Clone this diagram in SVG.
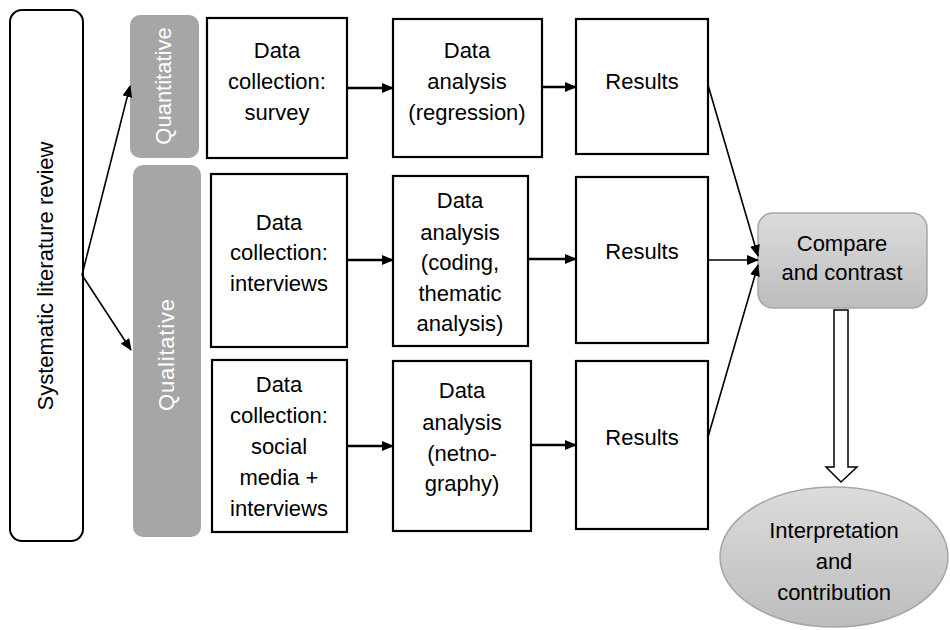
<svg xmlns="http://www.w3.org/2000/svg" width="950" height="630" viewBox="0 0 950 630">
<defs>
<style>
text{font-family:"Liberation Sans",Arial,sans-serif;font-size:22px;fill:#000;text-anchor:middle}
.w{fill:#fff}
.box{fill:#fff;stroke:#000;stroke-width:2.2}
.grey{fill:#a6a6a6}
.con{stroke:#000;stroke-width:2.5;fill:none}
.thin{stroke:#000;stroke-width:1.6;fill:none}
</style>
<marker id="ah" markerWidth="12" markerHeight="10" refX="11" refY="5" orient="auto" markerUnits="userSpaceOnUse">
<path d="M0,0 L12,5 L0,10 Z" fill="#000"/>
</marker>
<linearGradient id="gc" x1="0" y1="0" x2="0" y2="1">
<stop offset="0" stop-color="#dcdcdc"/><stop offset="1" stop-color="#bdbdbd"/>
</linearGradient>
</defs>

<g id="slr">
<rect x="10" y="10" width="73" height="531" rx="12" fill="#fff" stroke="#000" stroke-width="2"/>
<text transform="translate(53,276) rotate(-90)">Systematic literature review</text>
</g>
<g id="quantitative">
<rect class="grey" x="130" y="15" width="69" height="143" rx="10"/>
<text class="w" transform="translate(171,86) rotate(-90)">Quantitative</text>
</g>
<g id="qualitative">
<rect class="grey" x="133" y="165" width="68" height="372" rx="10"/>
<text class="w" transform="translate(174,355) rotate(-90)" textLength="112" lengthAdjust="spacing">Qualitative</text>
</g>

<g id="dc1">
<rect class="box" x="207" y="18" width="140" height="140"/>
<text x="277" y="58">Data</text><text x="277" y="89">collection:</text><text x="277" y="120">survey</text>
</g>
<g id="da1">
<rect class="box" x="393" y="19" width="149" height="138"/>
<text x="467" y="58">Data</text><text x="467" y="89">analysis</text><text x="467" y="120">(regression)</text>
</g>
<g id="res1">
<rect class="box" x="576" y="19" width="132" height="135"/>
<text x="642" y="89">Results</text>
</g>

<g id="dc2">
<rect class="box" x="211" y="174" width="136" height="173"/>
<text x="279" y="230">Data</text><text x="279" y="260">collection:</text><text x="279" y="291">interviews</text>
</g>
<g id="da2">
<rect class="box" x="393" y="176" width="135" height="170"/>
<text x="460" y="208">Data</text><text x="460" y="240">analysis</text><text x="460" y="270">(coding,</text><text x="460" y="301">thematic</text><text x="460" y="331">analysis)</text>
</g>
<g id="res2">
<rect class="box" x="576" y="177" width="132" height="166"/>
<text x="642" y="259">Results</text>
</g>

<g id="dc3">
<rect class="box" x="212" y="360" width="135" height="172"/>
<text x="279" y="392">Data</text><text x="279" y="423">collection:</text><text x="279" y="454">social</text><text x="279" y="485">media +</text><text x="279" y="516">interviews</text>
</g>
<g id="da3">
<rect class="box" x="393" y="361" width="138" height="170"/>
<text x="462" y="398">Data</text><text x="462" y="430">analysis</text><text x="462" y="461">(netno-</text><text x="462" y="491">graphy)</text>
</g>
<g id="res3">
<rect class="box" x="576" y="361" width="132" height="168"/>
<text x="642" y="445">Results</text>
</g>

<g id="compare">
<rect x="758" y="213" width="169" height="95" rx="15" fill="url(#gc)" stroke="#a6a6a6" stroke-width="1.5"/>
<text x="842" y="251">Compare</text><text x="842" y="280">and contrast</text>
</g>
<g id="interp">
<ellipse cx="834" cy="557" rx="114" ry="70" fill="url(#gc)" stroke="#a6a6a6" stroke-width="1.5"/>
<text x="834" y="538">Interpretation</text><text x="834" y="569">and</text><text x="834" y="600">contribution</text>
</g>

<g id="connectors">
<line class="thin" x1="82" y1="275" x2="130" y2="86" marker-end="url(#ah)"/>
<line class="thin" x1="82" y1="275" x2="131" y2="350" marker-end="url(#ah)"/>
<line class="con" x1="347" y1="88" x2="393" y2="88" marker-end="url(#ah)"/>
<line class="con" x1="542" y1="87" x2="576" y2="87" marker-end="url(#ah)"/>
<line class="con" x1="347" y1="260" x2="393" y2="260" marker-end="url(#ah)"/>
<line class="con" x1="528" y1="259" x2="576" y2="259" marker-end="url(#ah)"/>
<line class="con" x1="347" y1="446" x2="393" y2="446" marker-end="url(#ah)"/>
<line class="con" x1="531" y1="445" x2="576" y2="445" marker-end="url(#ah)"/>
<line class="thin" x1="708" y1="85" x2="758" y2="256" marker-end="url(#ah)"/>
<line class="thin" x1="708" y1="260" x2="758" y2="260" marker-end="url(#ah)"/>
<line class="thin" x1="708" y1="437" x2="758" y2="265" marker-end="url(#ah)"/>
<path d="M834,310 L848,310 L848,467 L857,467 L841,482 L826,467 L834,467 Z" fill="#fff" stroke="#000" stroke-width="1.5"/>
</g>
</svg>
